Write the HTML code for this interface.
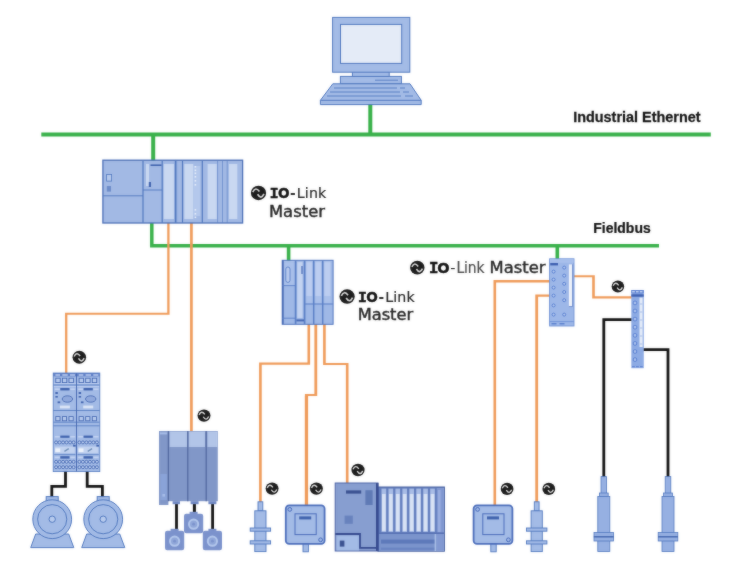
<!DOCTYPE html>
<html lang="en">
<head>
<meta charset="utf-8">
<title>IO-Link system overview</title>
<style>
html,body{margin:0;padding:0;background:#fff;}
body{width:730px;height:581px;overflow:hidden;}
svg{display:block;}
</style>
</head>
<body>
<svg width="730" height="581" viewBox="0 0 730 581">
<defs><filter id="soft" x="0" y="0" width="730" height="581" filterUnits="userSpaceOnUse" color-interpolation-filters="sRGB"><feGaussianBlur in="SourceGraphic" stdDeviation="0.8" result="b"/><feComposite in="SourceGraphic" in2="b" operator="arithmetic" k1="0" k2="0.6" k3="0.4" k4="0"/></filter></defs>
<rect width="730" height="581" fill="#fff"/>
<g filter="url(#soft)">
<g fill="none" stroke="#39b14a" stroke-width="4">
<path d="M41.3,134.6 H710.8"/>
<path d="M370.3,104 V134.6"/>
<path d="M153.2,134.6 V161"/>
<path d="M151.8,222 V245.8 H659" stroke-width="3.5"/>
<path d="M288.6,245.8 V261" stroke-width="3.6"/>
<path d="M557.3,245.8 V259.5" stroke-width="3.6"/>
</g>
<path d="M167.25,222.00h2.3v92.75h-2.3zM65.05,312.65h104.50v2.1h-104.50zM65.05,312.65h2.3v61.35h-2.3z" fill="#ef9a58"/>
<path d="M190.05,222.00h2.7v210.00h-2.7z" fill="#ef9a58"/>
<path d="M307.50,323.00h2.6v41.70h-2.6zM259.10,362.50h51.00v2.2h-51.00zM259.10,362.50h2.6v140.50h-2.6z" fill="#ef9a58"/>
<path d="M314.40,323.00h2.8v73.00h-2.8zM304.90,394.00h12.30v2.0h-12.30zM304.90,394.00h2.8v112.00h-2.8z" fill="#ef9a58"/>
<path d="M304.90,396.00h3.2v110.00h-3.2z" fill="#ef9a58"/>
<path d="M323.10,323.00h2.6v42.10h-2.6zM323.10,362.90h25.40v2.2h-25.40zM345.90,362.90h2.6v122.10h-2.6z" fill="#ef9a58"/>
<path d="M493.50,280.05h56.50v2.5h-56.50zM493.50,280.05h2.6v225.95h-2.6z" fill="#ef9a58"/>
<path d="M535.30,294.50h14.70v2.2h-14.70zM535.30,294.50h2.8v207.50h-2.8z" fill="#ef9a58"/>
<path d="M573.50,275.15h21.30v2.1h-21.30zM592.20,275.15h2.6v23.30h-2.6zM592.20,296.35h39.80v2.1h-39.80z" fill="#ef9a58"/>
<g fill="none" stroke="#121212" stroke-width="2.8">
<path d="M632,319.6 H603.8 V477"/>
<path d="M643,349.6 H668 V477"/>
<path d="M65.5,471 V486.4 H51.8 V497"/>
<path d="M87.2,471 V486.4 H102.4 V497"/>
<path d="M176.5,503 V531"/>
<path d="M194.4,503 V513" stroke-width="3"/>
<path d="M212.6,503 V531"/>
</g>
<g fill="#a3bbe6" stroke="#4f77be" stroke-width="1">
<rect x="352.4" y="71" width="36.8" height="6"/>
<rect x="332.6" y="17.4" width="77.2" height="54.8"/>
<rect x="340.5" y="24.4" width="61.2" height="39" fill="#e4ebf7"/>
<rect x="340.4" y="76.4" width="61" height="7.4"/>
<path d="M332.8,83.8 H410 L421.2,100.3 V104.6 H320.4 V100.3 Z"/>
<path d="M320.4,100.3 H421.2" fill="none"/>
<path d="M334,88 H397 M400,88 H405 M330,92 H400 M403,92 H409 M327,96 H401 M405,96 H413" fill="none" stroke-width="0.9"/>
<path d="M375,80.2 H398" fill="none" stroke-width="0.9"/>
</g>
<g stroke="#4f77be" stroke-width="1">
<rect x="102.9" y="160.2" width="139.7" height="62.8" fill="#a2b9e4" stroke="#4a6eb6" stroke-width="1.3"/>
<rect x="163.8" y="164" width="10.2" height="55" fill="#c9d8f1" stroke="none"/>
<rect x="184.3" y="164" width="9.0" height="55" fill="#c9d8f1" stroke="none"/>
<rect x="207.6" y="164" width="9.2" height="55" fill="#c9d8f1" stroke="none"/>
<rect x="229" y="164" width="8.3" height="55" fill="#c9d8f1" stroke="none"/>
<rect x="193.3" y="166" width="7" height="50" fill="#b4c8ec" stroke="none"/>
<path d="M143,160.2 V223" fill="none" stroke-width="1.2"/>
<path d="M162.2,160.2 V223" fill="none" stroke-width="1.2"/>
<path d="M175.4,160.2 V223" fill="none" stroke-width="1.2"/>
<path d="M182.5,160.2 V223" fill="none" stroke-width="1.2"/>
<path d="M202.3,160.2 V223" fill="none" stroke-width="1.2"/>
<path d="M176.6,160.2 V223" fill="none" stroke-width="0.8" opacity="0.7"/>
<path d="M217.6,160.2 V223" fill="none" stroke-width="0.8" opacity="0.7"/>
<path d="M222.5,160.2 V223" fill="none" stroke-width="0.8" opacity="0.7"/>
<path d="M227.2,160.2 V223" fill="none" stroke-width="0.8" opacity="0.7"/>
<path d="M102.9,195.8 H143 M143,190 H162.2" fill="none" stroke-width="0.9"/>
<rect x="106.6" y="174.5" width="5" height="6.6" fill="#b6c9ec" stroke-width="0.8"/>
<rect x="106.8" y="186" width="4.2" height="5.6" fill="#6d8cc9" stroke="none"/>
<rect x="146" y="164" width="3" height="22" fill="#c9d8f1" stroke="none"/>
<rect x="150.5" y="164.4" width="11" height="1.6" fill="#3f62ad" stroke="none"/>
<rect x="148.8" y="182" width="2.2" height="5" fill="#3f62ad" stroke="none"/>
<rect x="194.6" y="166" width="1.6" height="1.6" fill="#e6edf9" stroke="none"/>
<rect x="194.6" y="169.5" width="1.6" height="1.6" fill="#e6edf9" stroke="none"/>
<rect x="194.6" y="172.5" width="1.6" height="1.6" fill="#e6edf9" stroke="none"/>
<rect x="194.6" y="176" width="1.6" height="1.6" fill="#e6edf9" stroke="none"/>
<rect x="194.6" y="180" width="1.6" height="1.6" fill="#e6edf9" stroke="none"/>
<rect x="194.6" y="184" width="1.6" height="1.6" fill="#e6edf9" stroke="none"/>
<rect x="194.6" y="209" width="1.6" height="1.6" fill="#e6edf9" stroke="none"/>
<rect x="194.6" y="213" width="1.6" height="1.6" fill="#e6edf9" stroke="none"/>
<rect x="194.6" y="216.5" width="1.6" height="1.6" fill="#e6edf9" stroke="none"/>
</g>
<g stroke="#5a7fc6" stroke-width="1">
<rect x="282.2" y="260.3" width="50.9" height="64" fill="#9fb8e6" stroke="#4f74bd"/>
<rect x="283" y="261" width="12" height="25" fill="#a9c0ea" stroke="none"/>
<rect x="297.2" y="262" width="5.4" height="56" fill="#c3d3f1" stroke="none"/>
<rect x="306.2" y="261.6" width="6.0" height="34.4" fill="#bccdf0" stroke="none"/>
<rect x="306.2" y="296" width="6.0" height="7.4" fill="#aac0ea" stroke="none"/>
<rect x="315.2" y="261.6" width="6.0" height="34.4" fill="#bccdf0" stroke="none"/>
<rect x="315.2" y="296" width="6.0" height="7.4" fill="#aac0ea" stroke="none"/>
<rect x="324.2" y="261.6" width="6.4" height="34.4" fill="#bccdf0" stroke="none"/>
<rect x="324.2" y="296" width="6.4" height="7.4" fill="#aac0ea" stroke="none"/>
<path d="M282.9,260.3 V324.3" fill="none" stroke="#4467b3" stroke-width="1.6"/>
<path d="M295.6,260.3 V324.3" fill="none" stroke-width="1.7"/>
<path d="M304.6,260.3 V324.3" fill="none" stroke-width="1.7"/>
<path d="M313.7,260.3 V324.3" fill="none" stroke-width="1.5"/>
<path d="M322.7,260.3 V324.3" fill="none" stroke-width="1.5"/>
<path d="M304.6,304 H333.1" fill="none" stroke-width="1"/>
<path d="M282.2,285.6 H295.6 M282.2,318.2 H295.6" fill="none" stroke-width="0.9"/>
<rect x="296.4" y="319.4" width="7.6" height="2" fill="#4467b3" stroke="none"/>
<rect x="301.4" y="266" width="1.2" height="8" fill="#4467b3" stroke="none"/>
<rect x="285.8" y="267" width="4.2" height="15.4" rx="2.1" fill="#b9cbee" stroke-width="0.9"/>
</g>
<g stroke="#4a74cc" stroke-width="1">
<rect x="549.6" y="258.8" width="24.4" height="67.2" fill="#9db7e8" stroke="#6f92d6" stroke-width="0.9"/>
<rect x="550" y="259.2" width="23.6" height="3.6" fill="#a9c0ec" stroke="none"/>
<rect x="568.9" y="264.4" width="3.3" height="42" fill="#f0f4fb" stroke="none"/>
<path d="M572.6,264.4 V306.6 H568.9" fill="none" stroke="#6482c4" stroke-width="0.8"/>
<rect x="550.2" y="263" width="7.8" height="2.4" fill="#3d5fb0" stroke="none"/>
<path d="M549.6,321.6 H574" fill="none" stroke="#6f92d6" stroke-width="0.9"/>
<path d="M551.5,323.8 h5 m3,0 h5" fill="none" stroke="#5f84cf" stroke-width="1.4"/>
<circle cx="553.6" cy="271.6" r="1.5" fill="#b1c6ee" stroke-width="0.8"/>
<circle cx="553.6" cy="279.6" r="1.5" fill="#b1c6ee" stroke-width="0.8"/>
<circle cx="553.6" cy="287.6" r="1.5" fill="#b1c6ee" stroke-width="0.8"/>
<circle cx="553.6" cy="295.6" r="1.5" fill="#b1c6ee" stroke-width="0.8"/>
<circle cx="553.6" cy="305.4" r="1.5" fill="#b1c6ee" stroke-width="0.8"/>
<circle cx="553.6" cy="314.6" r="1.5" fill="#b1c6ee" stroke-width="0.8"/>
<circle cx="564.2" cy="267.6" r="1.5" fill="#b1c6ee" stroke-width="0.8"/>
<circle cx="564.2" cy="275.6" r="1.5" fill="#b1c6ee" stroke-width="0.8"/>
<circle cx="564.2" cy="283.8" r="1.5" fill="#b1c6ee" stroke-width="0.8"/>
<circle cx="564.2" cy="292" r="1.5" fill="#b1c6ee" stroke-width="0.8"/>
<circle cx="564.2" cy="300.2" r="1.5" fill="#b1c6ee" stroke-width="0.8"/>
<circle cx="564.2" cy="314.6" r="1.5" fill="#b1c6ee" stroke-width="0.8"/>
</g>
<g stroke="#4a74cc" stroke-width="1">
<rect x="631.3" y="290" width="12.5" height="78.2" fill="#8dabe4" stroke="none"/>
<rect x="631.3" y="290" width="12.5" height="3.4" fill="#5f83d2" stroke="none"/>
<path d="M632.2,291.7 h2.6 m1.2,0 h2.6 m1.2,0 h2.6" fill="none" stroke="#b9ccf0" stroke-width="1.6"/>
<rect x="631.3" y="294.3" width="12.5" height="2.4" fill="#3d5fb0" stroke="none"/>
<rect x="639.5" y="297.6" width="3.1" height="49.4" fill="#e6edf9" stroke="none"/>
<path d="M640,304 h2.4 M640,312 h2.4 M640,320 h2.4 M640,328 h2.4 M640,336 h2.4 M640,344 h2.4" fill="none" stroke="#9db6e6" stroke-width="0.8"/>
<rect x="633.3" y="301.2" width="3.4" height="3.4" rx="1.1" fill="#a9c0ec" stroke-width="0.8"/>
<rect x="633.3" y="309.3" width="3.4" height="3.4" rx="1.1" fill="#a9c0ec" stroke-width="0.8"/>
<rect x="633.3" y="317.4" width="3.4" height="3.4" rx="1.1" fill="#a9c0ec" stroke-width="0.8"/>
<rect x="633.3" y="325.5" width="3.4" height="3.4" rx="1.1" fill="#a9c0ec" stroke-width="0.8"/>
<rect x="633.3" y="333.6" width="3.4" height="3.4" rx="1.1" fill="#a9c0ec" stroke-width="0.8"/>
<rect x="633.3" y="341.7" width="3.4" height="3.4" rx="1.1" fill="#a9c0ec" stroke-width="0.8"/>
<rect x="633.3" y="349.8" width="3.4" height="3.4" rx="1.1" fill="#a9c0ec" stroke-width="0.8"/>
<rect x="633.3" y="357.9" width="3.4" height="3.4" rx="1.1" fill="#a9c0ec" stroke-width="0.8"/>
<path d="M632,366.6 h2.8 m1.2,0 h2.8 m1.2,0 h2.8" fill="none" stroke="#5f83d2" stroke-width="1.4"/>
</g>
<g stroke="#4f77be" stroke-width="0.8">
<rect x="53.2" y="373" width="46.6" height="98.6" fill="#a3bbe6" stroke="none"/>
<rect x="53.2" y="373" width="23.3" height="3.4" fill="#5f7fc6" stroke="none"/>
<path d="M55.400000000000006,374.9 h4.6 m2.3,0 h5.4 m2.3,0 h5" fill="none" stroke="#bccdf0" stroke-width="1.5"/>
<path d="M53.2,383.4 h23.3 M53.2,386.6 h23.3" fill="none" stroke="#c3d3f2" stroke-width="0.9"/>
<path d="M54.800000000000004,389.2 h5 M70.2,389.2 h5" fill="none" stroke="#c3d3f2" stroke-width="1.6"/>
<path d="M54.800000000000004,436.7 h5 M70.2,436.7 h5" fill="none" stroke="#c3d3f2" stroke-width="1.6"/>
<path d="M54.800000000000004,457.4 h5 M70.2,457.4 h5" fill="none" stroke="#c3d3f2" stroke-width="1.6"/>
<rect x="55.8" y="378.2" width="4.4" height="4.4" fill="#b9ccee" stroke="#3f62ad" stroke-width="0.8"/>
<rect x="62.4" y="378.2" width="4.4" height="4.4" fill="#b9ccee" stroke="#3f62ad" stroke-width="0.8"/>
<rect x="69.0" y="378.2" width="4.4" height="4.4" fill="#b9ccee" stroke="#3f62ad" stroke-width="0.8"/>
<path d="M53.2,385 h23.3 M53.2,410.5 h23.3 M53.2,422.2 h23.3 M53.2,425.8 h23.3" fill="none"/>
<rect x="60.3" y="388" width="9.2" height="2.4" fill="#3f62ad" stroke="none"/>
<ellipse cx="67.4" cy="399" rx="5.2" ry="3.2" fill="#90a9dc" stroke="#3f62ad"/>
<rect x="55.4" y="392" width="2.4" height="2" fill="#3f62ad" stroke="none"/>
<rect x="55.4" y="396" width="2.4" height="1.6" fill="#3f62ad" stroke="none"/>
<rect x="57.6" y="401.4" width="2.6" height="1.8" fill="#3f62ad" stroke="none"/>
<rect x="59.9" y="405.6" width="10" height="2.8" fill="#dbe5f6" stroke="none"/>
<rect x="55.8" y="416.6" width="4.2" height="4.2" fill="#b9ccee" stroke="#3f62ad" stroke-width="0.8"/>
<rect x="62.4" y="416.6" width="4.2" height="4.2" fill="#b9ccee" stroke="#3f62ad" stroke-width="0.8"/>
<rect x="69.0" y="416.6" width="4.2" height="4.2" fill="#b9ccee" stroke="#3f62ad" stroke-width="0.8"/>
<rect x="60.3" y="435.6" width="9.2" height="2.2" fill="#3f62ad" stroke="none"/>
<circle cx="56.1" cy="442.4" r="1.5" fill="#b9ccee" stroke="#3f62ad" stroke-width="0.8"/>
<circle cx="59.6" cy="442.4" r="1.5" fill="#b9ccee" stroke="#3f62ad" stroke-width="0.8"/>
<circle cx="63.1" cy="442.4" r="1.5" fill="#b9ccee" stroke="#3f62ad" stroke-width="0.8"/>
<circle cx="66.6" cy="442.4" r="1.5" fill="#b9ccee" stroke="#3f62ad" stroke-width="0.8"/>
<circle cx="70.1" cy="442.4" r="1.5" fill="#b9ccee" stroke="#3f62ad" stroke-width="0.8"/>
<circle cx="73.6" cy="442.4" r="1.5" fill="#b9ccee" stroke="#3f62ad" stroke-width="0.8"/>
<rect x="54.8" y="446.6" width="20.1" height="6.6" fill="#c3d3f0" stroke="none"/>
<rect x="55.2" y="448.4" width="5" height="3.6" fill="#eef3fb" stroke="none"/>
<path d="M64.4,451.4 l4.4,-2.8" fill="none" stroke="#6f8fb8" stroke-width="1.3"/>
<rect x="73.1" y="444.8" width="2.6" height="1.8" fill="#3f62ad" stroke="none"/>
<rect x="60.3" y="456.2" width="9.2" height="2.4" fill="#3f62ad" stroke="none"/>
<path d="M54.2,454.6 h21.3" fill="none" stroke-width="0.7"/>
<circle cx="56.1" cy="461.8" r="1.5" fill="#b9ccee" stroke="#3f62ad" stroke-width="0.8"/>
<circle cx="59.6" cy="461.8" r="1.5" fill="#b9ccee" stroke="#3f62ad" stroke-width="0.8"/>
<circle cx="63.1" cy="461.8" r="1.5" fill="#b9ccee" stroke="#3f62ad" stroke-width="0.8"/>
<circle cx="66.6" cy="461.8" r="1.5" fill="#b9ccee" stroke="#3f62ad" stroke-width="0.8"/>
<circle cx="70.1" cy="461.8" r="1.5" fill="#b9ccee" stroke="#3f62ad" stroke-width="0.8"/>
<circle cx="73.6" cy="461.8" r="1.5" fill="#b9ccee" stroke="#3f62ad" stroke-width="0.8"/>
<circle cx="56.1" cy="467.2" r="1.5" fill="#b9ccee" stroke="#3f62ad" stroke-width="0.8"/>
<circle cx="59.6" cy="467.2" r="1.5" fill="#b9ccee" stroke="#3f62ad" stroke-width="0.8"/>
<circle cx="63.1" cy="467.2" r="1.5" fill="#b9ccee" stroke="#3f62ad" stroke-width="0.8"/>
<circle cx="66.6" cy="467.2" r="1.5" fill="#b9ccee" stroke="#3f62ad" stroke-width="0.8"/>
<circle cx="70.1" cy="467.2" r="1.5" fill="#b9ccee" stroke="#3f62ad" stroke-width="0.8"/>
<circle cx="73.6" cy="467.2" r="1.5" fill="#b9ccee" stroke="#3f62ad" stroke-width="0.8"/>
<rect x="76.5" y="373" width="23.3" height="3.4" fill="#5f7fc6" stroke="none"/>
<path d="M78.7,374.9 h4.6 m2.3,0 h5.4 m2.3,0 h5" fill="none" stroke="#bccdf0" stroke-width="1.5"/>
<path d="M76.5,383.4 h23.3 M76.5,386.6 h23.3" fill="none" stroke="#c3d3f2" stroke-width="0.9"/>
<path d="M78.1,389.2 h5 M93.5,389.2 h5" fill="none" stroke="#c3d3f2" stroke-width="1.6"/>
<path d="M78.1,436.7 h5 M93.5,436.7 h5" fill="none" stroke="#c3d3f2" stroke-width="1.6"/>
<path d="M78.1,457.4 h5 M93.5,457.4 h5" fill="none" stroke="#c3d3f2" stroke-width="1.6"/>
<rect x="79.1" y="378.2" width="4.4" height="4.4" fill="#b9ccee" stroke="#3f62ad" stroke-width="0.8"/>
<rect x="85.7" y="378.2" width="4.4" height="4.4" fill="#b9ccee" stroke="#3f62ad" stroke-width="0.8"/>
<rect x="92.3" y="378.2" width="4.4" height="4.4" fill="#b9ccee" stroke="#3f62ad" stroke-width="0.8"/>
<path d="M76.5,385 h23.3 M76.5,410.5 h23.3 M76.5,422.2 h23.3 M76.5,425.8 h23.3" fill="none"/>
<rect x="83.6" y="388" width="9.2" height="2.4" fill="#3f62ad" stroke="none"/>
<ellipse cx="90.7" cy="399" rx="5.2" ry="3.2" fill="#90a9dc" stroke="#3f62ad"/>
<rect x="78.7" y="392" width="2.4" height="2" fill="#3f62ad" stroke="none"/>
<rect x="78.7" y="396" width="2.4" height="1.6" fill="#3f62ad" stroke="none"/>
<rect x="80.9" y="401.4" width="2.6" height="1.8" fill="#3f62ad" stroke="none"/>
<rect x="83.2" y="405.6" width="10" height="2.8" fill="#dbe5f6" stroke="none"/>
<rect x="79.1" y="416.6" width="4.2" height="4.2" fill="#b9ccee" stroke="#3f62ad" stroke-width="0.8"/>
<rect x="85.7" y="416.6" width="4.2" height="4.2" fill="#b9ccee" stroke="#3f62ad" stroke-width="0.8"/>
<rect x="92.3" y="416.6" width="4.2" height="4.2" fill="#b9ccee" stroke="#3f62ad" stroke-width="0.8"/>
<rect x="83.6" y="435.6" width="9.2" height="2.2" fill="#3f62ad" stroke="none"/>
<circle cx="79.4" cy="442.4" r="1.5" fill="#b9ccee" stroke="#3f62ad" stroke-width="0.8"/>
<circle cx="82.9" cy="442.4" r="1.5" fill="#b9ccee" stroke="#3f62ad" stroke-width="0.8"/>
<circle cx="86.4" cy="442.4" r="1.5" fill="#b9ccee" stroke="#3f62ad" stroke-width="0.8"/>
<circle cx="89.9" cy="442.4" r="1.5" fill="#b9ccee" stroke="#3f62ad" stroke-width="0.8"/>
<circle cx="93.4" cy="442.4" r="1.5" fill="#b9ccee" stroke="#3f62ad" stroke-width="0.8"/>
<circle cx="96.9" cy="442.4" r="1.5" fill="#b9ccee" stroke="#3f62ad" stroke-width="0.8"/>
<rect x="78.1" y="446.6" width="20.1" height="6.6" fill="#c3d3f0" stroke="none"/>
<rect x="78.5" y="448.4" width="5" height="3.6" fill="#eef3fb" stroke="none"/>
<path d="M87.7,451.4 l4.4,-2.8" fill="none" stroke="#6f8fb8" stroke-width="1.3"/>
<rect x="96.4" y="444.8" width="2.6" height="1.8" fill="#3f62ad" stroke="none"/>
<rect x="83.6" y="456.2" width="9.2" height="2.4" fill="#3f62ad" stroke="none"/>
<path d="M77.5,454.6 h21.3" fill="none" stroke-width="0.7"/>
<circle cx="79.4" cy="461.8" r="1.5" fill="#b9ccee" stroke="#3f62ad" stroke-width="0.8"/>
<circle cx="82.9" cy="461.8" r="1.5" fill="#b9ccee" stroke="#3f62ad" stroke-width="0.8"/>
<circle cx="86.4" cy="461.8" r="1.5" fill="#b9ccee" stroke="#3f62ad" stroke-width="0.8"/>
<circle cx="89.9" cy="461.8" r="1.5" fill="#b9ccee" stroke="#3f62ad" stroke-width="0.8"/>
<circle cx="93.4" cy="461.8" r="1.5" fill="#b9ccee" stroke="#3f62ad" stroke-width="0.8"/>
<circle cx="96.9" cy="461.8" r="1.5" fill="#b9ccee" stroke="#3f62ad" stroke-width="0.8"/>
<circle cx="79.4" cy="467.2" r="1.5" fill="#b9ccee" stroke="#3f62ad" stroke-width="0.8"/>
<circle cx="82.9" cy="467.2" r="1.5" fill="#b9ccee" stroke="#3f62ad" stroke-width="0.8"/>
<circle cx="86.4" cy="467.2" r="1.5" fill="#b9ccee" stroke="#3f62ad" stroke-width="0.8"/>
<circle cx="89.9" cy="467.2" r="1.5" fill="#b9ccee" stroke="#3f62ad" stroke-width="0.8"/>
<circle cx="93.4" cy="467.2" r="1.5" fill="#b9ccee" stroke="#3f62ad" stroke-width="0.8"/>
<circle cx="96.9" cy="467.2" r="1.5" fill="#b9ccee" stroke="#3f62ad" stroke-width="0.8"/>
<path d="M76.5,373 V471.6" fill="none" stroke="#3f62ad" stroke-width="0.9"/>
<rect x="53.2" y="373" width="46.6" height="98.6" fill="none" stroke-width="0.8"/>
</g>
<g fill="#a3bbe6" stroke="#4f77be" stroke-width="1">
<path d="M35.7,534 L30.700000000000003,547.6 H73.80000000000001 L68.7,534 Z"/>
<rect x="46.2" y="496.6" width="12" height="5"/>
<circle cx="52.2" cy="519.2" r="19.4"/>
<circle cx="52.2" cy="519.2" r="14.6" fill="none"/>
<circle cx="52.2" cy="519.2" r="3.2" fill="#b9ccee"/>
</g>
<g fill="#a3bbe6" stroke="#4f77be" stroke-width="1">
<path d="M86.7,534 L81.7,547.6 H124.80000000000001 L119.7,534 Z"/>
<rect x="97.2" y="496.6" width="12" height="5"/>
<circle cx="103.2" cy="519.2" r="19.4"/>
<circle cx="103.2" cy="519.2" r="14.6" fill="none"/>
<circle cx="103.2" cy="519.2" r="3.2" fill="#b9ccee"/>
</g>
<g stroke="#52689f" stroke-width="1">
<rect x="159" y="431" width="9.4" height="74" fill="#8197c8" stroke="none"/>
<rect x="168.4" y="431" width="49.4" height="70.2" fill="#8197c8" stroke="none"/>
<rect x="169.6" y="431.6" width="17.4" height="15.4" fill="#b2c5e8" stroke="none"/>
<rect x="188.6" y="431.6" width="16.4" height="15.4" fill="#b2c5e8" stroke="none"/>
<rect x="207.4" y="431.6" width="10.0" height="15.4" fill="#b2c5e8" stroke="none"/>
<rect x="160" y="432.4" width="7.4" height="2" fill="#a7bde8" stroke="none"/>
<rect x="160.4" y="474" width="6.6" height="26" fill="#8aa3d8" stroke="none"/>
<rect x="162.4" y="494" width="2.6" height="2.6" fill="#a7bde8" stroke="none"/>
<path d="M168.4,431 V501.2" fill="none" stroke-width="1.3"/>
<path d="M187.8,431 V501.2" fill="none" stroke-width="1.3"/>
<path d="M206.2,431 V501.2" fill="none" stroke-width="1.3"/>
<rect x="172.6" y="501.2" width="7.4" height="3" fill="#6f88c4" stroke="none"/>
<rect x="190.6" y="501.2" width="8.0" height="3" fill="#6f88c4" stroke="none"/>
<rect x="208.4" y="501.2" width="8.0" height="3" fill="#6f88c4" stroke="none"/>
</g>
<g>
<rect x="189.6" y="511.80000000000007" width="8" height="3" fill="#7b92cc"/>
<rect x="184.0" y="513.8000000000001" width="19.2" height="19.4" rx="2.2" fill="#7b92cc"/>
<circle cx="193.6" cy="524.2" r="4.6" fill="#8fa6d8" stroke="#b3c7ec" stroke-width="2"/>
<circle cx="193.6" cy="524.2" r="1.4" fill="#7b92cc"/>
</g>
<g>
<rect x="170.6" y="528.8000000000001" width="8" height="3" fill="#7b92cc"/>
<rect x="165.0" y="530.8000000000001" width="19.2" height="19.4" rx="2.2" fill="#7b92cc"/>
<circle cx="174.6" cy="541.2" r="4.6" fill="#8fa6d8" stroke="#b3c7ec" stroke-width="2"/>
<circle cx="174.6" cy="541.2" r="1.4" fill="#7b92cc"/>
</g>
<g>
<rect x="208.4" y="528.8000000000001" width="8" height="3" fill="#7b92cc"/>
<rect x="202.8" y="530.8000000000001" width="19.2" height="19.4" rx="2.2" fill="#7b92cc"/>
<circle cx="212.4" cy="541.2" r="4.6" fill="#8fa6d8" stroke="#b3c7ec" stroke-width="2"/>
<circle cx="212.4" cy="541.2" r="1.4" fill="#7b92cc"/>
</g>
<g fill="#a3bbe6" stroke="#4f77be" stroke-width="0.9">
<rect x="258.0" y="501.8" width="4.8" height="9.2"/>
<rect x="254.79999999999998" y="510.8" width="11.2" height="40.8"/>
<rect x="250.2" y="528" width="20.4" height="3.2"/>
<rect x="250.2" y="540.8" width="20.4" height="3.2"/>
</g>
<g fill="#a3bbe6" stroke="#4f77be" stroke-width="0.9">
<rect x="534.3000000000001" y="501.8" width="4.8" height="9.2"/>
<rect x="531.1" y="510.8" width="11.2" height="40.8"/>
<rect x="526.5" y="528" width="20.4" height="3.2"/>
<rect x="526.5" y="540.8" width="20.4" height="3.2"/>
</g>
<g fill="#a3bbe6" stroke="#4a6cba" stroke-width="1.8">
<rect x="303.0" y="543.2" width="5.4" height="8.6" stroke="#4f77be" stroke-width="0.9"/>
<rect x="285.8" y="505.4" width="38.8" height="38.4" rx="3.4"/>
<rect x="295.0" y="513.8" width="21.2" height="20.8" stroke-width="1"/>
<rect x="299.20000000000005" y="516.4" width="12" height="3" fill="#3f62ad" stroke="none"/>
<circle cx="289.8" cy="509.4" r="1.9" fill="#9db6e6" stroke-width="1"/>
<circle cx="320.6" cy="539.8" r="1.9" fill="#9db6e6" stroke-width="1"/>
</g>
<g fill="#a3bbe6" stroke="#4a6cba" stroke-width="1.8">
<rect x="490.79999999999995" y="543.2" width="5.4" height="8.6" stroke="#4f77be" stroke-width="0.9"/>
<rect x="473.59999999999997" y="505.4" width="38.8" height="38.4" rx="3.4"/>
<rect x="482.79999999999995" y="513.8" width="21.2" height="20.8" stroke-width="1"/>
<rect x="487.0" y="516.4" width="12" height="3" fill="#3f62ad" stroke="none"/>
<circle cx="477.59999999999997" cy="509.4" r="1.9" fill="#9db6e6" stroke-width="1"/>
<circle cx="508.4" cy="539.8" r="1.9" fill="#9db6e6" stroke-width="1"/>
</g>
<g stroke="#4f77be" stroke-width="1">
<rect x="378" y="487" width="66.4" height="64.2" fill="#627dbd" stroke="#46609f"/>
<rect x="381.50" y="488.6" width="4.7" height="43.4" fill="#a9bde6" stroke="none"/>
<rect x="382.00" y="494" width="3.7" height="37" fill="#d9e3f5" stroke="none"/>
<rect x="388.45" y="488.6" width="4.7" height="43.4" fill="#a9bde6" stroke="none"/>
<rect x="388.95" y="494" width="3.7" height="37" fill="#d9e3f5" stroke="none"/>
<rect x="395.40" y="488.6" width="4.7" height="43.4" fill="#a9bde6" stroke="none"/>
<rect x="395.90" y="494" width="3.7" height="37" fill="#d9e3f5" stroke="none"/>
<rect x="402.35" y="488.6" width="4.7" height="43.4" fill="#a9bde6" stroke="none"/>
<rect x="402.85" y="494" width="3.7" height="37" fill="#d9e3f5" stroke="none"/>
<rect x="409.30" y="488.6" width="4.7" height="43.4" fill="#a9bde6" stroke="none"/>
<rect x="409.80" y="494" width="3.7" height="37" fill="#d9e3f5" stroke="none"/>
<rect x="416.25" y="488.6" width="4.7" height="43.4" fill="#a9bde6" stroke="none"/>
<rect x="416.75" y="494" width="3.7" height="37" fill="#d9e3f5" stroke="none"/>
<rect x="423.20" y="488.6" width="4.7" height="43.4" fill="#a9bde6" stroke="none"/>
<rect x="423.70" y="494" width="3.7" height="37" fill="#d9e3f5" stroke="none"/>
<rect x="430.15" y="488.6" width="4.7" height="43.4" fill="#a9bde6" stroke="none"/>
<rect x="430.65" y="494" width="3.7" height="37" fill="#d9e3f5" stroke="none"/>
<rect x="436.8" y="488" width="7.2" height="63" fill="#8299d2" stroke="none"/>
<rect x="438" y="490" width="2.6" height="42" fill="#98ade0" stroke="none"/>
<rect x="379" y="532.6" width="57.4" height="18.2" fill="#7b94cc" stroke="none"/>
<rect x="379" y="532.4" width="65" height="1.6" fill="#5670b3" stroke="none"/>
<rect x="381" y="539.6" width="55" height="4" fill="#5d79ba" stroke="none"/>
<rect x="381" y="547.6" width="55" height="2.2" fill="#6a84c2" stroke="none"/>
<rect x="434.6" y="534" width="1.8" height="17" fill="#a9bde6" stroke="none"/>
<rect x="335.2" y="483" width="42.8" height="68" fill="#879ed0" stroke="#4a62a6"/>
<path d="M377.2,483 V551" fill="none" stroke="#364a8f" stroke-width="2.4"/>
<rect x="346" y="490.4" width="15.2" height="3.2" fill="#3a5190" stroke="none"/>
<rect x="365.4" y="490.2" width="7.2" height="14.8" fill="#5f7ab5" stroke="none"/>
<rect x="344.6" y="515.6" width="8.2" height="8.2" fill="#6882bd" stroke="none"/>
<path d="M335.2,534 H360 V547.8 H377" fill="none" stroke="#364a8f" stroke-width="1.8"/>
<rect x="336.6" y="535.4" width="22.4" height="15" fill="#a3bbe6" stroke="none"/>
<rect x="339.8" y="540.6" width="4.6" height="6" fill="#3a5190" stroke="none"/>
</g>
<g fill="#96b0e2" stroke="#4f77be" stroke-width="0.8">
<rect x="601.0" y="476.6" width="5.6" height="17.4"/>
<rect x="599.4" y="493" width="8.8" height="3.6"/>
<rect x="597.8" y="496.4" width="12.0" height="55.2"/>
<rect x="594.0" y="532.4" width="19.6" height="8.6"/>
<path d="M593.8,536.8 h20" fill="none" stroke="#3f62ad" stroke-width="1.4"/>
</g>
<g fill="#96b0e2" stroke="#4f77be" stroke-width="0.8">
<rect x="665.2" y="476.6" width="5.6" height="17.4"/>
<rect x="663.6" y="493" width="8.8" height="3.6"/>
<rect x="662.0" y="496.4" width="12.0" height="55.2"/>
<rect x="658.2" y="532.4" width="19.6" height="8.6"/>
<path d="M658,536.8 h20" fill="none" stroke="#3f62ad" stroke-width="1.4"/>
</g>
<g transform="translate(258.5,192.9) scale(1.043)"><ellipse rx="7.3" ry="6.95" fill="#1c1c1c"/><path d="M-5.5,-0.8 Q-2.8,-6.4 0.9,-1.3" fill="none" stroke="#d6d6d6" stroke-width="1.6"/><path d="M-0.9,1.3 Q2.5,6.8 5.2,1.0" fill="none" stroke="#d6d6d6" stroke-width="1.6"/></g>
<g transform="translate(347.1,296.6) scale(1.043)"><ellipse rx="7.3" ry="6.95" fill="#1c1c1c"/><path d="M-5.5,-0.8 Q-2.8,-6.4 0.9,-1.3" fill="none" stroke="#d6d6d6" stroke-width="1.6"/><path d="M-0.9,1.3 Q2.5,6.8 5.2,1.0" fill="none" stroke="#d6d6d6" stroke-width="1.6"/></g>
<g transform="translate(417.3,267.7) scale(0.986)"><ellipse rx="7.3" ry="6.95" fill="#1c1c1c"/><path d="M-5.5,-0.8 Q-2.8,-6.4 0.9,-1.3" fill="none" stroke="#d6d6d6" stroke-width="1.6"/><path d="M-0.9,1.3 Q2.5,6.8 5.2,1.0" fill="none" stroke="#d6d6d6" stroke-width="1.6"/></g>
<g transform="translate(79.3,357.2) scale(0.929)"><ellipse rx="7.3" ry="6.95" fill="#1c1c1c"/><path d="M-5.5,-0.8 Q-2.8,-6.4 0.9,-1.3" fill="none" stroke="#d6d6d6" stroke-width="1.6"/><path d="M-0.9,1.3 Q2.5,6.8 5.2,1.0" fill="none" stroke="#d6d6d6" stroke-width="1.6"/></g>
<g transform="translate(204,415.6) scale(0.886)"><ellipse rx="7.3" ry="6.95" fill="#1c1c1c"/><path d="M-5.5,-0.8 Q-2.8,-6.4 0.9,-1.3" fill="none" stroke="#d6d6d6" stroke-width="1.6"/><path d="M-0.9,1.3 Q2.5,6.8 5.2,1.0" fill="none" stroke="#d6d6d6" stroke-width="1.6"/></g>
<g transform="translate(272.1,488.6) scale(0.886)"><ellipse rx="7.3" ry="6.95" fill="#1c1c1c"/><path d="M-5.5,-0.8 Q-2.8,-6.4 0.9,-1.3" fill="none" stroke="#d6d6d6" stroke-width="1.6"/><path d="M-0.9,1.3 Q2.5,6.8 5.2,1.0" fill="none" stroke="#d6d6d6" stroke-width="1.6"/></g>
<g transform="translate(316.4,488.6) scale(0.886)"><ellipse rx="7.3" ry="6.95" fill="#1c1c1c"/><path d="M-5.5,-0.8 Q-2.8,-6.4 0.9,-1.3" fill="none" stroke="#d6d6d6" stroke-width="1.6"/><path d="M-0.9,1.3 Q2.5,6.8 5.2,1.0" fill="none" stroke="#d6d6d6" stroke-width="1.6"/></g>
<g transform="translate(358,470) scale(0.900)"><ellipse rx="7.3" ry="6.95" fill="#1c1c1c"/><path d="M-5.5,-0.8 Q-2.8,-6.4 0.9,-1.3" fill="none" stroke="#d6d6d6" stroke-width="1.6"/><path d="M-0.9,1.3 Q2.5,6.8 5.2,1.0" fill="none" stroke="#d6d6d6" stroke-width="1.6"/></g>
<g transform="translate(507.1,488.9) scale(0.871)"><ellipse rx="7.3" ry="6.95" fill="#1c1c1c"/><path d="M-5.5,-0.8 Q-2.8,-6.4 0.9,-1.3" fill="none" stroke="#d6d6d6" stroke-width="1.6"/><path d="M-0.9,1.3 Q2.5,6.8 5.2,1.0" fill="none" stroke="#d6d6d6" stroke-width="1.6"/></g>
<g transform="translate(548.8,488.9) scale(0.871)"><ellipse rx="7.3" ry="6.95" fill="#1c1c1c"/><path d="M-5.5,-0.8 Q-2.8,-6.4 0.9,-1.3" fill="none" stroke="#d6d6d6" stroke-width="1.6"/><path d="M-0.9,1.3 Q2.5,6.8 5.2,1.0" fill="none" stroke="#d6d6d6" stroke-width="1.6"/></g>
<g transform="translate(617.9,286.5) scale(0.857)"><ellipse rx="7.3" ry="6.95" fill="#1c1c1c"/><path d="M-5.5,-0.8 Q-2.8,-6.4 0.9,-1.3" fill="none" stroke="#d6d6d6" stroke-width="1.6"/><path d="M-0.9,1.3 Q2.5,6.8 5.2,1.0" fill="none" stroke="#d6d6d6" stroke-width="1.6"/></g>
<text y="198.30" fill="#262626"><tspan x="269.70" font-family="'Liberation Mono', monospace" font-weight="bold" font-size="14.6" stroke="#111" stroke-width="0.5" fill="#111">I</tspan><tspan x="277.92" font-family="'DejaVu Sans', sans-serif" font-weight="bold" font-size="13.6" stroke="#111" stroke-width="0.4" fill="#111">O</tspan><tspan x="290.05" font-family="'DejaVu Sans', sans-serif" font-weight="bold" font-size="13.6">-</tspan><tspan x="296.78" font-family="'DejaVu Sans', sans-serif" font-weight="normal" font-size="14.2" letter-spacing="0.15" stroke="#262626" stroke-width="0.2">Link</tspan></text>
<text transform="translate(268.96,216.60) scale(1.042,1)" fill="#262626" font-family="'DejaVu Sans', sans-serif" font-weight="normal" font-size="15.75" stroke="#262626" stroke-width="0.4">Master</text>
<text y="302.40" fill="#262626"><tspan x="358.10" font-family="'Liberation Mono', monospace" font-weight="bold" font-size="14.6" stroke="#111" stroke-width="0.5" fill="#111">I</tspan><tspan x="366.32" font-family="'DejaVu Sans', sans-serif" font-weight="bold" font-size="13.6" stroke="#111" stroke-width="0.4" fill="#111">O</tspan><tspan x="378.45" font-family="'DejaVu Sans', sans-serif" font-weight="bold" font-size="13.6">-</tspan><tspan x="385.18" font-family="'DejaVu Sans', sans-serif" font-weight="normal" font-size="14.2" letter-spacing="0.15" stroke="#262626" stroke-width="0.2">Link</tspan></text>
<text transform="translate(357.67,320.30) scale(1.069,1)" fill="#262626" font-family="'DejaVu Sans', sans-serif" font-weight="normal" font-size="15.21" stroke="#262626" stroke-width="0.4">Master</text>
<text y="273.20" fill="#262626"><tspan x="429.03" font-family="'Liberation Mono', monospace" font-weight="bold" font-size="15.62" stroke="#111" stroke-width="0.5" fill="#111">I</tspan><tspan x="437.27" font-family="'DejaVu Sans', sans-serif" font-weight="bold" font-size="14.55" stroke="#111" stroke-width="0.4" fill="#111">O</tspan><tspan x="450.27" font-family="'DejaVu Sans', sans-serif" font-weight="normal" font-size="14.55">-</tspan><tspan fill="#4a4a4a" x="456.51" font-family="'DejaVu Sans Condensed', sans-serif" font-weight="normal" font-size="15.4" letter-spacing="-0.1" stroke="#4a4a4a" stroke-width="0.2">Link</tspan></text>
<text transform="translate(489.56,273.20) scale(1.033,1)" fill="#262626" font-family="'DejaVu Sans', sans-serif" font-weight="normal" font-size="15.89" stroke="#262626" stroke-width="0.4">Master</text>
<text transform="translate(573.16,121.90) scale(1.006,1)" fill="#121212" font-family="'Liberation Sans', sans-serif" font-weight="bold" font-size="14.34" stroke="#121212" stroke-width="0.25">Industrial Ethernet</text>
<text transform="translate(593.29,233.00) scale(0.946,1)" fill="#121212" font-family="'Liberation Sans', sans-serif" font-weight="bold" font-size="14.76" stroke="#121212" stroke-width="0.25">Fieldbus</text>
</g>
</svg>
</body>
</html>
